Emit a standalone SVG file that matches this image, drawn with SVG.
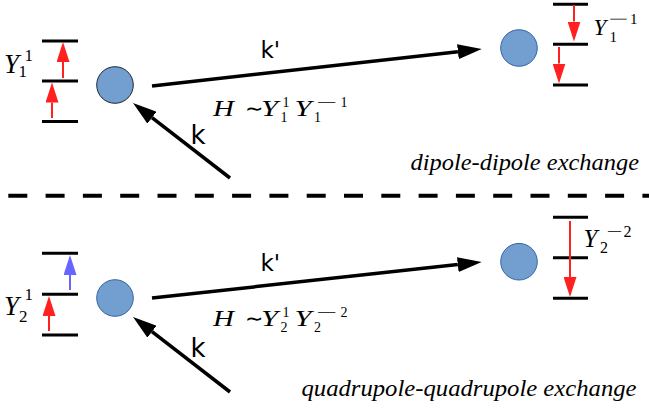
<svg xmlns="http://www.w3.org/2000/svg" width="649" height="414" viewBox="0 0 649 414">
<style>
.lvl{stroke:#000;stroke-width:3}
.big{stroke:#000;stroke-width:3.5;fill:none}
.red{stroke:#ff2020;stroke-width:2}
.blue{stroke:#6666ff;stroke-width:2}
.atom{fill:#729fcf;stroke:#3465a4;stroke-width:1}
.sans{font-family:'DejaVu Sans',sans-serif;fill:#000}
.math{font-family:'Liberation Serif',serif;font-style:italic;fill:#000}
.num{font-family:'Liberation Serif',serif;font-style:normal;fill:#000}
.cap{font-family:'Liberation Serif',serif;font-style:italic;font-size:24px;fill:#000}
</style>
<defs>
<marker id="mBig" markerUnits="userSpaceOnUse" markerWidth="24" markerHeight="15" refX="0" refY="7.5" orient="auto" viewBox="0 0 24 15"><path d="M0,0 L24,7.5 L0,15 z" fill="#000"/></marker>
<marker id="mRed" markerUnits="userSpaceOnUse" markerWidth="20" markerHeight="13" refX="0" refY="6.5" orient="auto" viewBox="0 0 20 13"><path d="M0,0 L20,6.5 L0,13 z" fill="#ff2020"/></marker>
<marker id="mBlue" markerUnits="userSpaceOnUse" markerWidth="20" markerHeight="13" refX="0" refY="6.5" orient="auto" viewBox="0 0 20 13"><path d="M0,0 L20,6.5 L0,13 z" fill="#6666ff"/></marker>
</defs>

<g id="levels-top-left">
<line class="lvl" x1="42" y1="41" x2="78" y2="41"/>
<line class="lvl" x1="42" y1="81" x2="78" y2="81"/>
<line class="lvl" x1="42" y1="121.5" x2="78" y2="121.5"/>
<line class="red" x1="63" y1="78" x2="63" y2="62" marker-end="url(#mRed)"/>
<line class="red" x1="52" y1="118" x2="52" y2="102.5" marker-end="url(#mRed)"/>
<text class="math" x="4" y="72.7" font-size="27">Y</text>
<text class="num" x="24.5" y="61" font-size="17">1</text>
<text class="num" x="18.5" y="77.3" font-size="17">1</text>
</g>

<g id="atom-top-left"><circle class="atom" cx="115" cy="85" r="18.3" style="stroke:#1a2a3a"/></g>
<g id="atom-top-right"><circle class="atom" cx="519" cy="48" r="18.3"/></g>

<g id="levels-top-right">
<line class="lvl" x1="553" y1="4.3" x2="588" y2="4.3"/>
<line class="lvl" x1="553" y1="44.3" x2="588" y2="44.3"/>
<line class="lvl" x1="553" y1="85" x2="588" y2="85"/>
<line class="red" x1="574" y1="5" x2="574" y2="21.5" marker-end="url(#mRed)"/>
<line class="red" x1="559" y1="47" x2="559" y2="63.5" marker-end="url(#mRed)"/>
<text class="math" x="593.5" y="35" font-size="23">Y</text>
<text class="num" y="24" font-size="15"><tspan x="608" textLength="20" lengthAdjust="spacingAndGlyphs">−</tspan><tspan x="630">1</tspan></text>
<text class="num" x="609.5" y="41.7" font-size="15">1</text>
</g>

<g id="formula-top">
<text class="math" x="213" y="116" font-size="23" textLength="21" lengthAdjust="spacingAndGlyphs">H</text>
<text class="num" x="244.5" y="116" font-size="22">∼</text>
<text class="math" x="261" y="116" font-size="23" textLength="17" lengthAdjust="spacingAndGlyphs">Y</text>
<text class="num" x="282.5" y="106.7" font-size="14">1</text>
<text class="num" x="280.5" y="121.7" font-size="14">1</text>
<text class="math" x="294.5" y="116" font-size="23" textLength="17" lengthAdjust="spacingAndGlyphs">Y</text>
<text class="num" y="106.7" font-size="14"><tspan x="316.5" textLength="21" lengthAdjust="spacingAndGlyphs">−</tspan><tspan x="340.5">1</tspan></text>
<text class="num" x="314" y="121.7" font-size="14">1</text>
</g>

<g id="caption-top"><text class="cap" x="410.5" y="170" textLength="228.5" lengthAdjust="spacingAndGlyphs">dipole-dipole exchange</text></g>

<g id="separator"><line x1="8.3" y1="195.7" x2="649" y2="195.7" stroke="#000" stroke-width="4" stroke-dasharray="19 18.3"/></g>

<g id="levels-bottom-left">
<line class="lvl" x1="42" y1="253.3" x2="78" y2="253.3"/>
<line class="lvl" x1="42" y1="294.3" x2="78" y2="294.3"/>
<line class="lvl" x1="42" y1="335" x2="78" y2="335"/>
<line class="blue" x1="70" y1="290" x2="70" y2="275" marker-end="url(#mBlue)"/>
<line class="red" x1="49" y1="331" x2="49" y2="316" marker-end="url(#mRed)"/>
<text class="math" x="4" y="315" font-size="27">Y</text>
<text class="num" x="24.5" y="300" font-size="17">1</text>
<text class="num" x="19" y="321.7" font-size="17">2</text>
</g>

<g id="atom-bottom-left"><circle class="atom" cx="115" cy="298" r="18.3"/></g>
<g id="atom-bottom-right"><circle class="atom" cx="519" cy="261.7" r="18.3"/></g>

<g id="levels-bottom-right">
<line class="lvl" x1="553" y1="217.3" x2="588" y2="217.3"/>
<line class="lvl" x1="553" y1="257.7" x2="588" y2="257.7"/>
<line class="lvl" x1="553" y1="298.3" x2="588" y2="298.3"/>
<line class="red" x1="570" y1="221" x2="570" y2="277" marker-end="url(#mRed)"/>
<text class="math" x="583.5" y="246.7" font-size="25">Y</text>
<text class="num" y="236.7" font-size="16"><tspan x="606.5" textLength="16" lengthAdjust="spacingAndGlyphs">−</tspan><tspan x="623.5">2</tspan></text>
<text class="num" x="600" y="253.3" font-size="16">2</text>
</g>

<g id="formula-bottom">
<text class="math" x="213" y="326" font-size="23" textLength="21" lengthAdjust="spacingAndGlyphs">H</text>
<text class="num" x="244.5" y="326" font-size="22">∼</text>
<text class="math" x="261" y="326" font-size="23" textLength="17" lengthAdjust="spacingAndGlyphs">Y</text>
<text class="num" x="282.5" y="316.7" font-size="14">1</text>
<text class="num" x="280.5" y="331.7" font-size="14">2</text>
<text class="math" x="294.5" y="326" font-size="23" textLength="17" lengthAdjust="spacingAndGlyphs">Y</text>
<text class="num" y="316.7" font-size="14"><tspan x="316.5" textLength="21" lengthAdjust="spacingAndGlyphs">−</tspan><tspan x="340.5">2</tspan></text>
<text class="num" x="314" y="331.7" font-size="14">2</text>
</g>

<g id="caption-bottom"><text class="cap" x="301.5" y="396" textLength="335" lengthAdjust="spacingAndGlyphs">quadrupole-quadrupole exchange</text></g>

<g id="connectors">
<line class="big" x1="152" y1="86" x2="457.9" y2="51.7" marker-end="url(#mBig)"/>
<line class="big" x1="230" y1="178" x2="152" y2="117.7" marker-end="url(#mBig)"/>
<line class="big" x1="152" y1="298" x2="457.8" y2="264.6" marker-end="url(#mBig)"/>
<line class="big" x1="230" y1="392" x2="152" y2="331.7" marker-end="url(#mBig)"/>
<text class="sans" x="260.5" y="58.3" font-size="23">k'</text>
<text class="sans" x="190.5" y="143.5" font-size="26">k</text>
<text class="sans" x="260.5" y="271.3" font-size="23">k'</text>
<text class="sans" x="190.5" y="356.5" font-size="26">k</text>
</g>
</svg>
